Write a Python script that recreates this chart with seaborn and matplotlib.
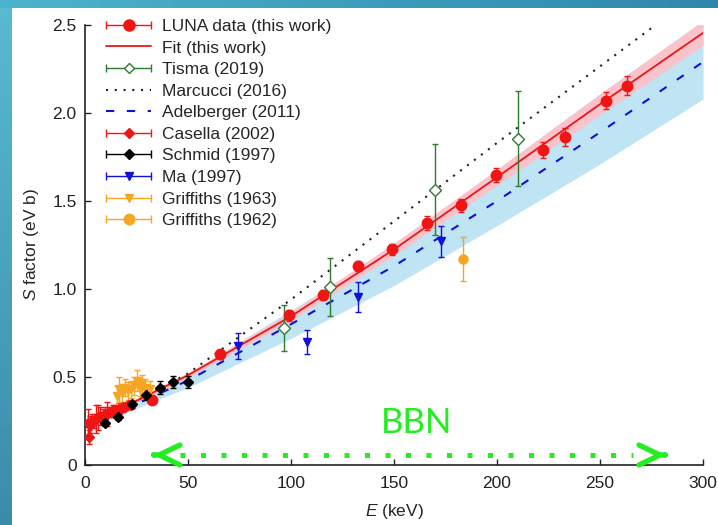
import numpy as np
import seaborn as sns
import matplotlib
matplotlib.use('Agg')
import matplotlib.pyplot as plt
from matplotlib.colors import LinearSegmentedColormap
from matplotlib.container import ErrorbarContainer
from matplotlib.legend_handler import HandlerErrorbar

# LUNA data (this work)
luna_e = [32.5, 65.5, 99, 115.5, 132.5, 149, 166, 182.5, 199.5, 222.5, 233, 253, 263]
luna_s = [0.37, 0.63, 0.85, 0.965, 1.13, 1.225, 1.375, 1.475, 1.65, 1.79, 1.865, 2.07, 2.155]
luna_err = [0.02, 0.025, 0.03, 0.03, 0.03, 0.03, 0.04, 0.037, 0.04, 0.045, 0.05, 0.05, 0.054]

# fit (this work) with band
fit_e = [0, 50, 100, 150, 200, 250, 300]
fit_s = [0.22, 0.51, 0.845, 1.225, 1.635, 2.05, 2.455]
fit_band = [0.01, 0.015, 0.025, 0.035, 0.045, 0.06, 0.07]

# Tisma (2019)
tisma_e = [96.6, 119, 170, 210]
tisma_s = [0.78, 1.01, 1.565, 1.855]
tisma_err = [0.13, 0.165, 0.26, 0.27]

# Marcucci (2016)
marc_e = [0, 25, 50, 100, 150, 200, 250, 300]
marc_s = [0.22, 0.365, 0.52, 0.94, 1.385, 1.83, 2.265, 2.70]

# Adelberger (2011) with band
adel_e = [0, 50, 100, 150, 200, 250, 300]
adel_s = [0.214, 0.48, 0.80, 1.13, 1.50, 1.89, 2.29]
adel_band = [0.01, 0.04, 0.08, 0.11, 0.14, 0.18, 0.21]

# Casella (2002)
cas_e = [1.5, 2.0, 2.5, 3.5, 4.5, 5.5, 6.5, 7.5, 8.5, 9.5, 10.5, 11.5, 12.5, 13.5, 14.5, 15.5, 16.5, 17.5, 18.5, 19.5, 21.0, 22.5]
cas_s = [0.24, 0.16, 0.23, 0.25, 0.25, 0.26, 0.27, 0.28, 0.28, 0.29, 0.29, 0.30, 0.30, 0.31, 0.31, 0.31, 0.32, 0.32, 0.33, 0.33, 0.34, 0.34]
cas_err = [0.08, 0.04, 0.05, 0.04, 0.04, 0.08, 0.07, 0.05, 0.04, 0.04, 0.07, 0.03, 0.03, 0.03, 0.03, 0.03, 0.03, 0.02, 0.02, 0.02, 0.02, 0.02]

# Schmid (1997)
sch_e = [9.7, 16.2, 23, 29.8, 36.5, 42.9, 50]
sch_s = [0.24, 0.275, 0.345, 0.40, 0.44, 0.473, 0.473]
sch_err = [0.02, 0.02, 0.02, 0.03, 0.035, 0.035, 0.035]

# Ma (1997)
ma_e = [74.4, 107.6, 132.5, 172.8]
ma_s = [0.676, 0.70, 0.955, 1.27]
ma_err = [0.075, 0.068, 0.085, 0.09]

# Griffiths (1963)
g63_e = [15.5, 16.5, 18, 19.5, 21, 22.5, 24, 25, 26.5, 27.5, 29, 31.5]
g63_s = [0.39, 0.43, 0.41, 0.44, 0.42, 0.43, 0.45, 0.48, 0.44, 0.46, 0.44, 0.43]
g63_err = [0.06, 0.07, 0.05, 0.05, 0.05, 0.05, 0.05, 0.06, 0.05, 0.05, 0.05, 0.05]

# Griffiths (1962)
g62_e = [183.3]
g62_s = [1.17]
g62_err = [0.125]

sns.set_theme(style='ticks')
plt.rcParams['font.family'] = ['Liberation Sans', 'DejaVu Sans']
plt.rcParams['mathtext.fontset'] = 'custom'
plt.rcParams['mathtext.it'] = 'Liberation Sans:italic'
plt.rcParams['mathtext.rm'] = 'Liberation Sans'

fig, ax = plt.subplots(figsize=(7.18, 5.25), dpi=100)
fig.subplots_adjust(left=85/718, right=703/718, bottom=60/525, top=500/525)

# slide background strips
cl = LinearSegmentedColormap.from_list('l', ['#58bbd2', '#3a8cab'])
cax = fig.add_axes([0, 0, 12/718, 1])
cax.imshow(np.linspace(0, 1, 100).reshape(-1, 1), cmap=cl, aspect='auto')
cax.axis('off')
ct = LinearSegmentedColormap.from_list('t', ['#4cb3ce', '#2f88aa'])
tax = fig.add_axes([0, 1 - 8/525, 1, 8/525])
tax.imshow(np.linspace(0, 1, 100).reshape(1, -1), cmap=ct, aspect='auto')
tax.axis('off')

red = '#f01414'
green = '#2f7a32'
blue = '#1010d8'
orange = '#f6a623'
bbn = '#22ee22'

# bands
ax.fill_between(adel_e, np.array(adel_s) - adel_band, np.array(adel_s) + adel_band,
                color='#bfe4f3', lw=0, zorder=1)
ax.fill_between(fit_e, np.array(fit_s) - fit_band, np.array(fit_s) + fit_band,
                color='#f9c3cb', lw=0, zorder=1.5)

sns.lineplot(x=adel_e, y=adel_s, ax=ax, color=blue, lw=1.5, linestyle=(0, (4, 6)), zorder=2)
adel_line = ax.lines[-1]
sns.lineplot(x=marc_e, y=marc_s, ax=ax, color='#222222', lw=1.5, linestyle=(0, (1, 3.2)), zorder=2)
marc_line = ax.lines[-1]
sns.lineplot(x=fit_e, y=fit_s, ax=ax, color=red, lw=1.3, zorder=2.5)
fit_line = ax.lines[-1]

eb = dict(capsize=2.5, elinewidth=1, capthick=1, zorder=3)
ax.errorbar(cas_e, cas_s, yerr=cas_err, fmt='D', color=red, ms=5, **eb)
ax.errorbar(g63_e, g63_s, yerr=g63_err, fmt='v', color=orange, ms=6, **eb)
ax.errorbar(luna_e, luna_s, yerr=luna_err, fmt='o', color=red, ms=7.5, **eb)
ax.errorbar(tisma_e, tisma_s, yerr=tisma_err, fmt='D', color=green, mfc='white', ms=6, mew=1, **eb)
ax.errorbar(ma_e, ma_s, yerr=ma_err, fmt='v', color=blue, ms=6, **eb)
ax.errorbar(g62_e, g62_s, yerr=g62_err, fmt='o', color=orange, ms=6.5, **eb)
ax.errorbar(sch_e, sch_s, yerr=sch_err, fmt='D', color='black', ms=5.5, **eb)

# legend proxies (horizontal bar style handles)
def proxy(marker, color, ms, mfc=None):
    return ax.errorbar([np.nan], [np.nan], xerr=[1], fmt=marker, color=color, ms=ms,
                       mfc=mfc if mfc else color, capsize=3, elinewidth=1, capthick=1)

handles = [proxy('o', red, 8), fit_line, proxy('D', green, 5.5, 'white'), marc_line, adel_line,
           proxy('D', red, 5), proxy('D', 'black', 5), proxy('v', blue, 6),
           proxy('v', orange, 6), proxy('o', orange, 7.5)]
labels = ['LUNA data (this work)', 'Fit (this work)', 'Tisma (2019)', 'Marcucci (2016)',
          'Adelberger (2011)', 'Casella (2002)', 'Schmid (1997)', 'Ma (1997)',
          'Griffiths (1963)', 'Griffiths (1962)']
ax.legend(handles, labels, loc='upper left', bbox_to_anchor=(0.034, 1.014), frameon=False,
          fontsize=12.5, handlelength=2.6, handletextpad=0.6, labelspacing=0.37,
          borderpad=0, borderaxespad=0,
          handler_map={ErrorbarContainer: HandlerErrorbar(xerr_size=1.3)})

# BBN range arrow
ax.plot([46, 266], [0.057, 0.057], color=bbn, lw=3.6, linestyle=(0, (1, 3.1)), zorder=2)
for x0, x1 in [(33.5, 33), (281.5, 282)]:
    ax.annotate('', xy=(x1, 0.057), xytext=(x0, 0.057),
                arrowprops=dict(arrowstyle='->,head_length=0.75,head_width=0.36', color=bbn,
                                lw=3.8, mutation_scale=20, shrinkA=0, shrinkB=0))
ax.text(160.8, 0.237, 'BBN', color=bbn, fontsize=25, family='Lato', ha='center', va='center')

ax.set_xlim(0, 300)
ax.set_ylim(0, 2.5)
ax.set_xticks([0, 50, 100, 150, 200, 250, 300])
ax.set_yticks([0, 0.5, 1.0, 1.5, 2.0, 2.5])
ax.set_yticklabels(['0', '0.5', '1.0', '1.5', '2.0', '2.5'])
ax.tick_params(direction='in', length=4, width=1, labelsize=12.5, colors='#222222')
ax.tick_params(axis='x', pad=8)
ax.tick_params(axis='y', pad=6)
ax.set_xlabel(r'$E$ (keV)', fontsize=12.5, labelpad=8)
ax.set_ylabel(r'$S$ factor (eV b)', fontsize=12.5, labelpad=8)
sns.despine(ax=ax)
for s in ['left', 'bottom']:
    ax.spines[s].set_linewidth(1.2)
    ax.spines[s].set_color('#222222')

fig.savefig('out.png', dpi=100)
